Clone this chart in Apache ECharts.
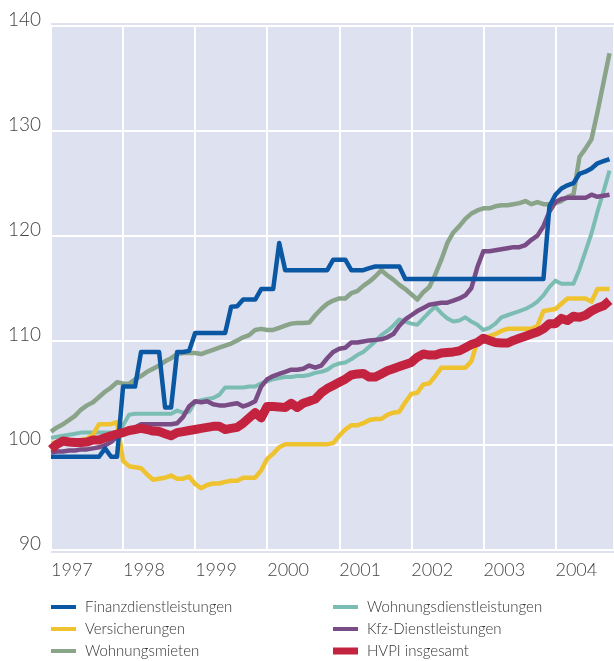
<!DOCTYPE html>
<html><head><meta charset="utf-8">
<script src="https://cdn.jsdelivr.net/npm/echarts@6/dist/echarts.min.js"></script>
<style>html,body{margin:0;padding:0;background:#fff}#c{width:614px;height:661px}</style>
</head><body><div id="c"></div>
<script>
// Monthly index values, January 1997 onwards (month index 0 = Jan 1997)
const yearLabels = ['1997','1998','1999','2000','2001','2002','2003','2004'];
const yTicks = [90,100,110,120,130,140];

const finanz = [98.9,98.9,98.9,98.9,98.9,98.9,98.9,98.9,98.9,99.7,
98.9,98.9,105.6,105.6,105.6,108.9,108.9,108.9,108.9,103.6,
103.6,108.9,108.9,109.0,110.7,110.7,110.7,110.7,110.7,110.7,
113.2,113.25,113.9,113.9,113.9,114.9,114.9,114.9,119.3,116.7,
116.7,116.7,116.7,116.7,116.7,116.7,116.7,117.7,117.7,117.7,
116.7,116.7,116.7,116.9,117.05,117.05,117.05,117.05,117.05,115.85,
115.85,115.85,115.85,115.85,115.85,115.85,115.85,115.85,115.85,115.85,
115.85,115.85,115.85,115.85,115.85,115.85,115.85,115.85,115.85,115.85,
115.85,115.85,115.85,122.8,123.9,124.5,124.8,125.0,125.9,126.1,
126.4,126.9,127.1,127.3];

const versicherungen = [100.2,100.2,100.3,100.3,100.4,100.5,100.6,101.0,102.0,102.0,
102.0,102.2,98.5,98.0,97.9,97.8,97.2,96.7,96.8,96.9,
97.1,96.8,96.8,97.0,96.3,95.9,96.2,96.35,96.35,96.5,
96.6,96.6,96.9,96.9,96.9,97.6,98.7,99.2,99.8,100.1,
100.1,100.1,100.1,100.1,100.1,100.1,100.1,100.2,100.9,101.5,
101.9,101.9,102.1,102.4,102.5,102.5,102.9,103.1,103.2,104.1,
104.9,105.0,105.8,105.9,106.6,107.4,107.4,107.4,107.4,107.4,
108.0,109.9,110.2,110.4,110.6,110.9,111.1,111.1,111.1,111.1,
111.1,111.4,112.8,112.9,113.0,113.5,114.0,114.0,114.0,114.0,
113.7,114.9,114.9,114.9];

const mieten = [101.3,101.7,102.0,102.4,102.8,103.4,103.8,104.1,104.6,105.1,
105.5,106.0,105.9,105.85,106.3,106.6,107.0,107.3,107.6,108.0,
108.3,108.7,108.8,108.8,108.8,108.7,108.9,109.1,109.3,109.5,
109.7,110.0,110.3,110.5,111.0,111.1,111.0,111.0,111.2,111.4,
111.6,111.65,111.65,111.7,112.4,113.0,113.5,113.8,114.0,114.0,
114.5,114.7,115.2,115.6,116.1,116.7,116.2,115.8,115.3,114.9,
114.4,113.9,114.6,115.1,116.3,117.7,119.3,120.3,120.9,121.6,
122.1,122.4,122.6,122.6,122.8,122.9,122.9,123.0,123.1,123.3,
123.0,123.2,123.0,123.0,123.1,123.3,123.7,123.9,127.5,128.3,
129.2,131.8,134.6,137.4];

const wohnDienst = [100.7,100.8,100.9,101.0,101.1,101.2,101.2,101.2,101.2,101.2,
101.2,101.2,101.9,102.9,103.0,103.0,103.0,103.0,103.0,103.0,
103.0,103.3,103.1,103.2,104.1,104.3,104.4,104.5,104.8,105.5,
105.5,105.5,105.5,105.6,105.6,105.9,106.1,106.3,106.4,106.5,
106.5,106.6,106.6,106.7,106.9,107.0,107.2,107.6,107.8,107.9,
108.2,108.6,108.9,109.4,109.9,110.5,110.9,111.4,112.0,111.8,
111.6,111.5,112.1,112.7,113.2,112.6,112.1,111.8,111.9,112.2,
111.8,111.5,111.0,111.2,111.6,112.2,112.4,112.6,112.8,113.0,
113.3,113.7,114.3,115.1,115.7,115.4,115.4,115.4,116.8,118.5,
120.2,122.3,124.2,126.2];

const kfz = [99.3,99.4,99.4,99.5,99.5,99.6,99.6,99.7,99.8,100.0,
100.3,100.8,101.2,101.4,101.7,102.0,102.0,102.0,102.0,102.0,
102.0,102.1,102.7,103.7,104.2,104.1,104.2,103.9,103.8,103.8,
103.9,104.0,103.7,103.9,104.2,105.6,106.3,106.6,106.8,107.0,
107.2,107.2,107.3,107.6,107.4,107.6,108.3,108.9,109.2,109.3,
109.8,109.8,109.9,110.0,110.05,110.1,110.3,110.6,111.4,112.0,
112.4,112.8,113.1,113.4,113.5,113.6,113.6,113.8,114.0,114.3,
115.0,117.0,118.5,118.5,118.6,118.7,118.8,118.9,118.9,119.1,
119.6,120.0,120.9,122.3,123.2,123.5,123.6,123.6,123.6,123.6,
123.9,123.7,123.8,123.9];

const hvpi = [99.6,100.1,100.4,100.3,100.25,100.25,100.3,100.5,100.5,100.7,
100.9,101.05,101.2,101.4,101.5,101.6,101.5,101.35,101.3,101.1,
100.9,101.2,101.3,101.4,101.5,101.6,101.7,101.8,101.8,101.5,
101.6,101.7,102.1,102.6,103.1,102.6,103.7,103.7,103.65,103.6,
104.0,103.6,104.0,104.2,104.4,105.0,105.4,105.7,106.0,106.3,
106.7,106.8,106.85,106.5,106.5,106.8,107.1,107.3,107.5,107.7,
107.9,108.4,108.7,108.6,108.6,108.8,108.85,108.9,109.0,109.3,
109.6,109.8,110.2,110.0,109.8,109.75,109.75,110.0,110.2,110.4,
110.6,110.8,111.1,111.6,111.6,112.1,111.9,112.3,112.2,112.4,
112.8,113.1,113.3,113.8];

const colors = {
  'Finanzdienstleistungen':'#0A58A3',
  'Versicherungen':'#EEC32F',
  'Wohnungsmieten':'#8AA48A',
  'Wohnungsdienstleistungen':'#7BBDB3',
  'Kfz-Dienstleistungen':'#7A4C86',
  'HVPI insgesamt':'#C4233F'
};
const widths = {
  'Finanzdienstleistungen':4.5,'Versicherungen':4.5,'Wohnungsmieten':4.5,
  'Wohnungsdienstleistungen':4,'Kfz-Dienstleistungen':4.5,'HVPI insgesamt':9
};
const seriesData = {
  'Finanzdienstleistungen':finanz,'Versicherungen':versicherungen,'Wohnungsmieten':mieten,
  'Wohnungsdienstleistungen':wohnDienst,'Kfz-Dienstleistungen':kfz,'HVPI insgesamt':hvpi
};
const drawOrder = ['Wohnungsmieten','Wohnungsdienstleistungen','Versicherungen','Kfz-Dienstleistungen','Finanzdienstleistungen','HVPI insgesamt'];

const FONT = 'Lato, "Open Sans", sans-serif';
const chart = echarts.init(document.getElementById('c'), null, {renderer:'canvas'});

function mkLegend(items, left, top, h){
  return {
    orient:'vertical', left:left, top:top, itemWidth:25, itemHeight:h, itemGap:6,
    icon:'rect', selectedMode:false, padding:0,
    textStyle:{fontFamily:FONT, fontWeight:300, fontSize:15, color:'#333', lineHeight:16, padding:[0,0,0,4]},
    data:items
  };
}

chart.setOption({
  animation:false,
  backgroundColor:'#fff',
  graphic:[{type:'rect', left:51, top:23, shape:{width:563, height:530}, style:{fill:'#DEE1EF'}, z:-10, silent:true}],
  grid:{left:51, right:-3, top:26, bottom:111, show:false},
  legend:[
    mkLegend(['Finanzdienstleistungen','Versicherungen','Wohnungsmieten'], 51, 599, 4),
    mkLegend(['Wohnungsdienstleistungen','Kfz-Dienstleistungen'], 333, 599, 4),
    mkLegend(['HVPI insgesamt'], 333, 643, 7)
  ],
  xAxis:{
    type:'value', min:0, max:93.75, interval:12,
    axisLine:{show:false}, axisTick:{show:false},
    splitLine:{show:true, lineStyle:{color:'#ffffff', width:2}},
    axisLabel:{
      show:true, align:'left', margin:11, fontFamily:FONT, fontWeight:300, fontSize:18, color:'#444',
      showMaxLabel:false,
      formatter:function(v){ if (v % 12 !== 0) return ''; const k = v/12; return yearLabels[k] || ''; }
    }
  },
  yAxis:{
    type:'value', min:yTicks[0], max:yTicks[yTicks.length-1], interval:10,
    axisLine:{show:false}, axisTick:{show:false},
    splitLine:{show:true, lineStyle:{color:'#ffffff', width:2}},
    axisLabel:{margin:10, fontFamily:FONT, fontWeight:300, fontSize:19, color:'#444',
      verticalAlign:'bottom', lineHeight:12}
  },
  series: drawOrder.map(function(n){
    return {
      name:n, type:'line', showSymbol:false, symbol:'none',
      color:colors[n],
      lineStyle:{color:colors[n], width:widths[n], join:'round', cap:'butt'},
      itemStyle:{color:colors[n]},
      data: seriesData[n].map(function(v,i){ return [i, v]; }),
      z: 2
    };
  })
});
</script></body></html>
